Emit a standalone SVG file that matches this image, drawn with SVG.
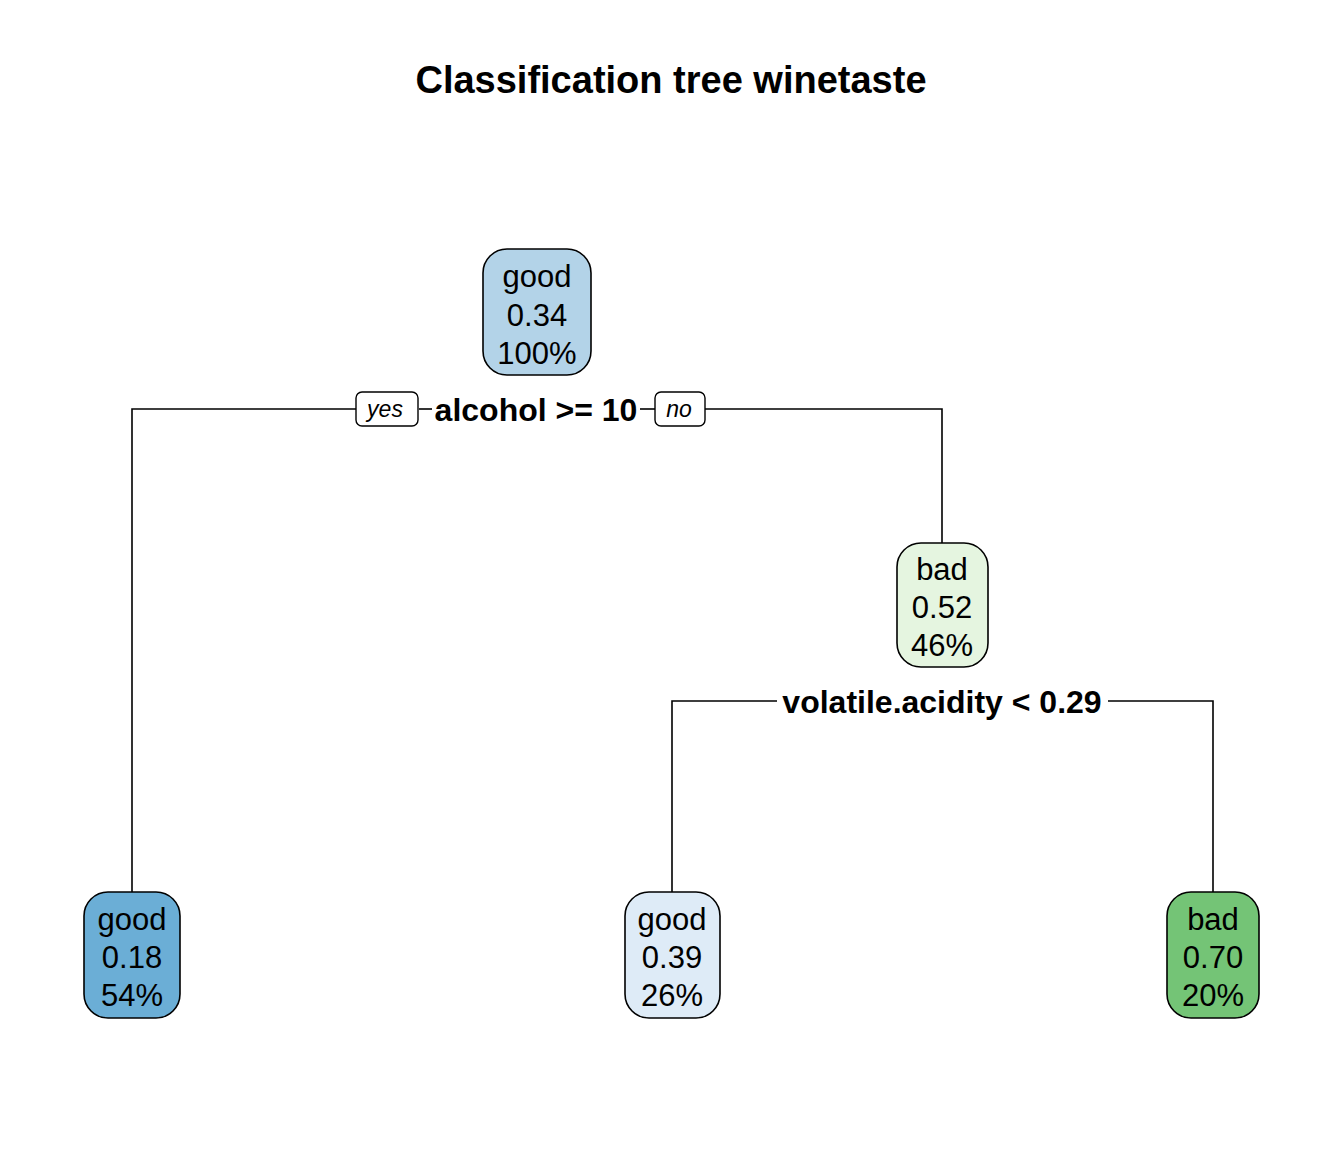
<svg xmlns="http://www.w3.org/2000/svg" width="1344" height="1152" viewBox="0 0 1344 1152">
<style>
text{font-family:"Liberation Sans",Arial,sans-serif;fill:#000}
.title{font-size:38px;font-weight:bold;text-anchor:middle}
.node rect{stroke:#000;stroke-width:1.6}
.node text{font-size:31px;text-anchor:middle}
.split{font-size:32px;font-weight:bold;text-anchor:middle}
.lbl rect{fill:#fff;stroke:#000;stroke-width:1.4}
.lbl text{font-size:23px;font-style:italic;text-anchor:middle}
.edges path{fill:none;stroke:#000;stroke-width:1.6}
</style>
<rect width="1344" height="1152" fill="#fff"/>
<text class="title" x="671" y="93">Classification tree winetaste</text>
<g class="edges" id="connectors">
<path d="M132,892 V409 H356"/>
<path d="M419,409 H432"/>
<path d="M640,409 H655"/>
<path d="M705,409 H942 V543"/>
<path d="M672,892 V701 H777"/>
<path d="M1108,701 H1213 V892"/>
</g>
<g id="split1">
<text class="split" x="536" y="421">alcohol &gt;= 10</text>
<g class="lbl"><rect x="356" y="392" width="62" height="34" rx="6"/><text x="385" y="417">yes</text></g>
<g class="lbl"><rect x="655" y="392" width="50" height="34" rx="6"/><text x="679" y="417">no</text></g>
</g>
<g id="split2">
<text class="split" x="942" y="713">volatile.acidity &lt; 0.29</text>
</g>
<g class="node" id="n1">
<rect x="483" y="249" width="108" height="126" rx="24" fill="#B3D3E8"/>
<text x="537" y="287">good</text><text x="537" y="326">0.34</text><text x="537" y="364">100%</text>
</g>
<g class="node" id="n3">
<rect x="897" y="543" width="91" height="124" rx="24" fill="#E5F5E0"/>
<text x="942" y="580">bad</text><text x="942" y="618">0.52</text><text x="942" y="656">46%</text>
</g>
<g class="node" id="n2">
<rect x="84" y="892" width="96" height="126" rx="24" fill="#6BAED6"/>
<text x="132" y="930">good</text><text x="132" y="968">0.18</text><text x="132" y="1006">54%</text>
</g>
<g class="node" id="n6">
<rect x="625" y="892" width="95" height="126" rx="24" fill="#DEEBF7"/>
<text x="672" y="930">good</text><text x="672" y="968">0.39</text><text x="672" y="1006">26%</text>
</g>
<g class="node" id="n7">
<rect x="1167" y="892" width="92" height="126" rx="24" fill="#74C476"/>
<text x="1213" y="930">bad</text><text x="1213" y="968">0.70</text><text x="1213" y="1006">20%</text>
</g>
</svg>
